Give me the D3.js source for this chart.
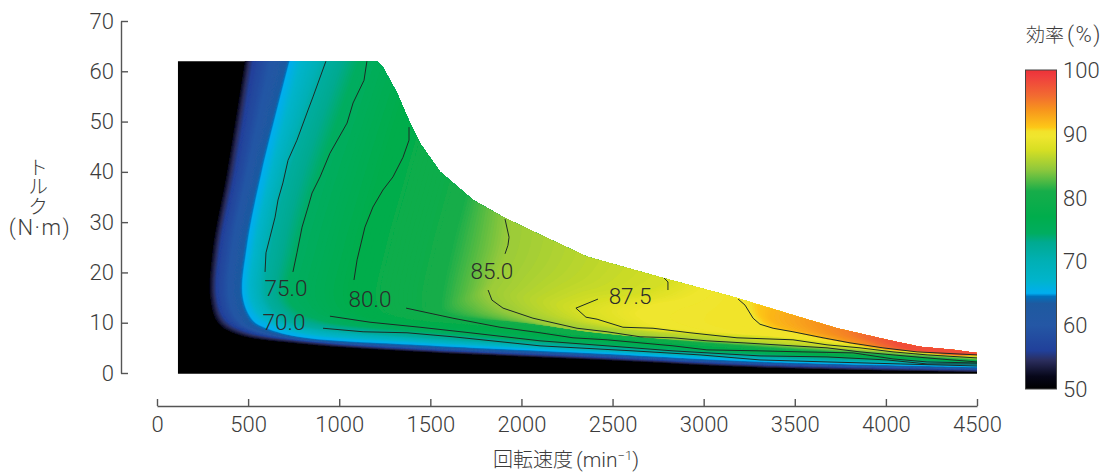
<!DOCTYPE html>
<html>
<head>
  <meta charset="UTF-8">
  <style>
body{ margin: 0; background: #fff; }
svg{ display: block; }
text{ font-family: Roboto, "Noto Sans CJK JP", sans-serif; font-weight: 300; fill: #3c3c3c; }
.jp{ font-family: "Noto Sans CJK JP", sans-serif; font-weight: 300; }
.axis path, .axis line{ stroke: #555; stroke-width: 1.4; }
  </style>
</head>
<body>
<svg></svg>

<script src="https://d3js.org/d3.v7.min.js"></script>
<script>

let width = 1107, height = 473;

// colour bar: efficiency (%) and the colour
let barValues = [50, 52, 54.5, 56, 60, 63.4, 64.5, 65, 67, 70, 73, 74.4, 77, 81, 84.4, 87.5, 89.6, 90.4, 91, 93.8, 95.9, 99, 100];
let barColors = ["#000000", "#07071a", "#2b2e5e", "#21409a", "#2457a5", "#1e5aa0", "#0071bc", "#00aeef", "#00b4cc", "#00b0b5", "#00aa90", "#00ad60", "#00ad4c", "#17ad4a", "#8fc83c", "#d7df23", "#f0e62e", "#f2e22a", "#fdc817", "#f7941d", "#f26c30", "#ef3e3e", "#ed3237"];
let barTicks = [50, 60, 70, 80, 90, 100];

let isoLevels = [52, 54.5, 56, 63.5, 65, 66, 72, 74.5, 81, 85, 87.5, 89.5, 90.3, 92, 95, 98];
let isoSpeed = [
  [499, 384, 307, 291, 335, 445, 785, 1443, 2431, 3364, 4626],
  [521, 406, 329, 313, 357, 466, 785, 1443, 2431, 3364, 4626],
  [543, 428, 346, 329, 373, 483, 796, 1443, 2431, 3364, 4626],
  [741, 560, 477, 456, 510, 593, 785, 1443, 2431, 3364, 4626],
  [757, 576, 494, 472, 527, 604, 785, 1443, 2431, 3364, 4626],
  [785, 604, 516, 494, 549, 631, 796, 1443, 2431, 3364, 4626],
  [988, 730, 631, 604, 686, 757, 895, 1443, 2431, 3364, 4626],
  [1147, 895, 774, 719, 785, 851, 977, 1443, 2431, 3364, 4626],
  [1882, 1718, 1608, 1553, 1553, 1608, 1718, 1992, 2541, 3364, 4626],
  [2102, 1965, 1926, 1855, 1828, 1910, 2047, 2212, 2651, 3364, 4626],
  [2980, 2804, 2651, 2420, 2299, 2354, 2557, 3035, 3364, 3968, 4626],
  [3145, 3062, 2925, 2706, 2623, 2678, 2815, 3145, 3419, 3968, 4626],
  [3309, 3227, 3254, 3320, 3392, 3529, 3666, 3814, 3995, 4215, 4626],
  [3529, 3392, 3364, 3446, 3529, 3639, 3803, 3968, 4187, 4379, 4626],
  [3968, 3803, 3776, 3803, 3858, 3913, 3995, 4078, 4215, 4379, 4626],
  [4352, 4105, 4050, 4050, 4078, 4105, 4160, 4242, 4325, 4434, 4626]
];
let isoTorque = [
  [66, 40, 25, 15.1, 9.9, 7.6, 5.8, 4.2, 2.6, 1.0, 0.1],
  [66, 40, 25, 15.1, 10.3, 8.0, 6.2, 4.5, 2.9, 1.3, 0.3],
  [66, 40, 25, 15.1, 10.7, 8.3, 6.4, 4.7, 3.1, 1.5, 0.5],
  [66, 40, 25, 15.1, 10.1, 8.5, 6.9, 5.3, 3.6, 2.0, 0.9],
  [66, 40, 25, 15.1, 10.5, 8.9, 7.2, 5.6, 3.9, 2.2, 1.1],
  [66, 40, 25, 15.1, 11.1, 9.5, 7.7, 6.0, 4.2, 2.5, 1.3],
  [66, 40, 25, 15.1, 11.1, 9.9, 8.9, 7.2, 5.0, 3.2, 1.7],
  [66, 40, 25, 15.1, 12.1, 11.1, 9.9, 8.3, 5.6, 3.7, 2.0],
  [66, 40, 25, 15.1, 12.5, 11.5, 10.9, 10.1, 7.6, 5.0, 2.3],
  [66, 40, 25.4, 18.5, 16.1, 12.9, 10.9, 9.1, 7.2, 5.8, 2.6],
  [44.3, 18.9, 15.9, 14.7, 12.9, 11.1, 9.1, 7.6, 7.0, 4.6, 3.0],
  [44.3, 20.5, 15.5, 13.5, 11.9, 10.1, 8.9, 8.0, 7.5, 5.2, 3.2],
  [34.4, 15.5, 12.1, 9.3, 8.7, 7.8, 6.8, 5.8, 4.8, 4.0, 3.5],
  [34.4, 14.5, 10.9, 8.9, 8.2, 7.0, 5.9, 4.8, 4.2, 3.5, 3.7],
  [34.4, 12.5, 9.1, 7.6, 6.6, 5.8, 5.0, 4.6, 4.2, 3.6, 3.9],
  [34.4, 10.5, 7.6, 6.2, 5.4, 5.0, 4.6, 4.3, 4.0, 3.7, 4.1]
];

// limit of the operating range
let envSpeed = [80, 1207, 1240, 1317, 1388, 1443, 1553, 1734, 1899, 2085, 2360, 2777, 3183, 3457, 3732, 4006, 4187, 4368, 4500];
let envTorque = [62, 62, 60.8, 55.7, 49.7, 45.7, 40, 34.4, 31, 27.8, 23.1, 18.9, 14.9, 11.9, 8.9, 6.6, 5.2, 4.6, 4.0];

// contour lines, speed and torque
let contourSpeed = [
  [927, 856, 829, 768, 719, 691, 664, 648, 620, 598, 593],
  [1152, 1136, 1076, 1043, 949, 895, 851, 829, 796, 768, 746],
  [1383, 1383, 1350, 1295, 1240, 1185, 1141, 1098, 1081],
  [1910, 1932, 1926, 1910],
  [911, 1131, 1372, 1624, 2102, 2612, 2980, 3309, 3677, 4078, 4500],
  [949, 1169, 1443, 1718, 2102, 2470, 2832, 3309, 3677, 4006, 4226, 4500],
  [1367, 1624, 1882, 2102, 2283, 2470, 2651, 2832, 3018, 3309, 3545, 3820, 4039, 4226, 4500],
  [1817, 1838, 1899, 2063, 2305, 2470, 2651, 2832, 3018, 3216, 3490, 3677, 3858, 4039, 4226, 4500],
  [2420, 2299, 2354, 2415, 2557, 2722, 2925, 3183, 3490, 3677, 3858, 4039, 4226, 4500],
  [2782, 2804, 2804],
  [3189, 3227, 3271, 3309, 3381, 3490, 3655, 3803, 3984, 4171, 4500]
];
let contourTorque = [
  [62, 54.9, 52.3, 46.3, 42.3, 37.8, 34.4, 31, 27, 23.9, 20.1],
  [62, 58.2, 53.7, 49.7, 43.7, 39, 35.8, 33, 29, 23.9, 20.1],
  [48.9, 46.3, 42.9, 39, 36.4, 33, 29, 22.5, 18.5],
  [30.6, 27, 25.4, 23.7],
  [8.9, 8.2, 8.0, 7.2, 5.4, 4.4, 3.6, 2.6, 2.2, 1.8, 1.4],
  [11.3, 10.1, 9.1, 8.0, 6.4, 5.4, 4.4, 3.4, 3.2, 2.6, 1.8, 1.8],
  [12.9, 10.9, 9.1, 8.0, 7.0, 6.6, 6.0, 5.4, 4.6, 4.4, 4.2, 4.0, 2.8, 2.2, 2.0],
  [16.5, 14.5, 12.9, 10.9, 8.9, 8.2, 7.2, 7.0, 6.4, 6.0, 5.4, 5.0, 4.2, 3.6, 3.0, 2.2],
  [14.7, 12.9, 11.1, 10.7, 9.1, 8.9, 8.0, 7.0, 6.6, 5.6, 5.0, 4.2, 3.6, 3.0],
  [18.9, 18.1, 16.5],
  [14.7, 13.5, 10.9, 9.7, 8.9, 8.2, 7.0, 6.0, 5.0, 4.2, 3.6]
];

let labelText = ["75.0", "70.0", "80.0", "85.0", "87.5"];
let labelSpeed = [708, 697, 1169, 1838, 2596];
let labelTorque = [16.9, 10.1, 14.7, 20.3, 15.3];

let xTicks = [0, 500, 1000, 1500, 2000, 2500, 3000, 3500, 4000, 4500];
let yTicks = [0, 10, 20, 30, 40, 50, 60, 70];

let svg = d3.select("svg")
    .attr("width", width)
    .attr("height", height)
    .attr("viewBox", "0 0 " + width + " " + height);

let x = d3.scaleLinear().domain([0, 4500]).range([157, 977]);
let y = d3.scaleLinear().domain([0, 70]).range([373, 21]);
let barY = d3.scaleLinear().domain([50, 100]).range([389, 70]);
let colorScale = d3.scaleLinear().domain(barValues).range(barColors);

let defs = svg.append("defs");

// map is clipped to the operating range, soft on that edge and hard on the left, bottom and right
defs.append("clipPath")
    .attr("id", "envelope")
  .append("path")
    .attr("d", d3.area()
        .x((d, i) => x(envSpeed[i]))
        .y0(y(-2))
        .y1((d, i) => y(envTorque[i]))(envSpeed) + "M" + x(4500) + "," + y(4) + "H" + x(4700) + "V" + y(-2) + "H" + x(4500) + "Z");

defs.append("clipPath")
    .attr("id", "frame")
  .append("rect")
    .attr("x", x(115))
    .attr("y", y(63))
    .attr("width", x(4500) - x(115))
    .attr("height", y(-0.14) - y(63));

defs.append("filter")
    .attr("id", "soft")
  .append("feGaussianBlur")
    .attr("stdDeviation", 0.7);

let map = svg.append("g")
    .attr("clip-path", "url(#frame)")
  .append("g")
    .attr("filter", "url(#soft)")
  .append("g")
    .attr("clip-path", "url(#envelope)");

map.append("rect")
    .attr("x", x(80))
    .attr("y", y(63))
    .attr("width", x(4700) - x(80))
    .attr("height", y(-2) - y(63))
    .attr("fill", colorScale(50));

let isoLine = d3.line().curve(d3.curveCatmullRom);

// each gap between two iso curves is filled with fine steps so the colour runs smoothly
function isoPath(sp, tq) {
    let pts = sp.map((s, i) => [x(s), y(tq[i])]);
    return isoLine(pts) + "L" + x(4800) + "," + pts[pts.length - 1][1] + "L" + x(4800) + "," + y(80) + "L" + pts[0][0] + "," + y(80) + "Z";
}

for (let i = 0; i < isoLevels.length; i++) {
    let next = i + 1 < isoLevels.length ? i + 1 : i;
    let steps = next == i ? 1 : Math.ceil((isoLevels[next] - isoLevels[i]) * 5);
    for (let s = 0; s < steps; s++) {
        let t = s / steps;
        let level = isoLevels[i] + (isoLevels[next] - isoLevels[i]) * t;
        let sp = isoSpeed[i].map((v, k) => d3.interpolateNumber(v, isoSpeed[next][k])(t));
        let tq = isoTorque[i].map((v, k) => d3.interpolateNumber(v, isoTorque[next][k])(t));
        map.append("path")
            .attr("d", isoPath(sp, tq))
            .attr("fill", colorScale(level));
    }
}

// contour lines
let contourLine = d3.line().x(d => x(d[0])).y(d => y(d[1]));
svg.append("g")
  .selectAll("path")
  .data(contourSpeed)
  .enter()
  .append("path")
    .attr("d", (d, i) => contourLine(d.map((s, k) => [s, contourTorque[i][k]])))
    .attr("fill", "none")
    .attr("stroke", "#1c2b26")
    .attr("stroke-width", 1);

svg.append("g")
  .selectAll("text")
  .data(labelText)
  .enter()
  .append("text")
    .attr("x", (d, i) => x(labelSpeed[i]))
    .attr("y", (d, i) => y(labelTorque[i]))
    .attr("dy", "0.36em")
    .attr("text-anchor", "middle")
    .style("font-size", "22.5px")
    .style("fill", "#2b2b2b")
    .text(d => d);

// axes
let yAxis = svg.append("g")
    .attr("class", "axis")
    .attr("transform", "translate(121,0)")
    .call(d3.axisLeft(y).tickValues(yTicks).tickSizeInner(-7).tickSizeOuter(0).tickPadding(7));

let xAxis = svg.append("g")
    .attr("class", "axis")
    .attr("transform", "translate(0,406)")
    .call(d3.axisBottom(x).tickValues(xTicks).tickFormat(d3.format("d")).tickSizeInner(-7).tickSizeOuter(0).tickPadding(10));

svg.selectAll(".axis text")
    .style("font-family", "Roboto, sans-serif")
    .style("font-size", "22px");

// axis titles
svg.append("text")
    .attr("class", "jp")
    .attr("x", 38)
    .attr("y", 157)
    .style("writing-mode", "vertical-rl")
    .style("font-size", "20px")
    .style("letter-spacing", "-0.5px")
    .text("トルク");

svg.append("text")
    .attr("x", 40)
    .attr("y", 235)
    .attr("text-anchor", "middle")
    .style("font-size", "22px")
    .style("letter-spacing", "1.5px")
    .text("(N·m)");

let xTitle = svg.append("text")
    .attr("x", 566)
    .attr("y", 467)
    .attr("text-anchor", "middle")
    .style("font-size", "21px");
xTitle.append("tspan").attr("class", "jp").style("font-size", "20px").text("回転速度");
xTitle.append("tspan").attr("dx", 3).text("(min");
xTitle.append("tspan").attr("dy", -7).style("font-size", "13px").text("−1");
xTitle.append("tspan").attr("dy", 7).text(")");

// colour bar
let grad = defs.append("linearGradient")
    .attr("id", "barGrad")
    .attr("x1", 0).attr("x2", 0).attr("y1", 1).attr("y2", 0);
grad.selectAll("stop")
    .data(barValues)
    .enter()
    .append("stop")
    .attr("offset", d => (d - 50) / 50)
    .attr("stop-color", (d, i) => barColors[i]);

svg.append("rect")
    .attr("x", 1025.5)
    .attr("y", barY(100))
    .attr("width", 31)
    .attr("height", barY(50) - barY(100))
    .attr("fill", "url(#barGrad)")
    .attr("stroke", "#444")
    .attr("stroke-width", 1);

svg.append("g")
  .selectAll("text")
  .data(barTicks)
  .enter()
  .append("text")
    .attr("x", 1063)
    .attr("y", d => barY(d))
    .attr("dy", "0.36em")
    .style("font-size", "22px")
    .text(d => d);

let barTitle = svg.append("text")
    .attr("x", 1026)
    .attr("y", 42)
    .style("font-size", "22px");
barTitle.append("tspan").attr("class", "jp").style("font-size", "19px").text("効率");
barTitle.append("tspan").attr("dx", 3).style("letter-spacing", "1.5px").text("(%)");

</script>
</body>
</html>
